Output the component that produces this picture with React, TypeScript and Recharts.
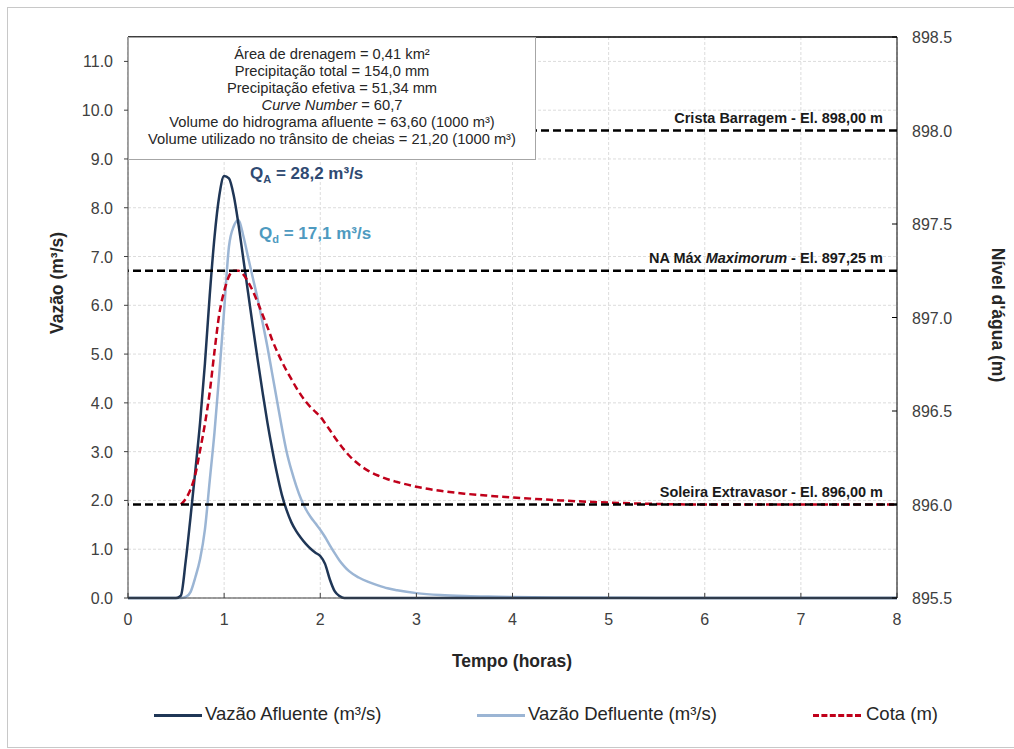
import React from 'react'
import { ComposedChart, Line, XAxis, YAxis, CartesianGrid, ReferenceLine } from 'recharts'

// tempo (horas) e séries
const tempo = [
  0, 0.5, 0.55, 0.6, 0.65, 0.7, 0.75, 0.8, 0.85, 0.9, 0.95, 1.0, 1.05, 1.1, 1.15, 1.2, 1.25, 1.3, 1.35,
  1.4, 1.45, 1.5, 1.55, 1.6, 1.65, 1.7, 1.75, 1.8, 1.85, 1.9, 1.95, 2.0, 2.05, 2.1, 2.15, 2.2, 2.25, 2.3,
  2.4, 2.5, 2.6, 2.7, 2.8, 3.0, 3.25, 3.5, 3.75, 4.0, 4.5, 5.0, 5.5, 6.0, 7.0, 8.0,
]

const vazaoAfluente = [
  0, 0, 0.05, 0.75, 1.65, 2.6, 3.6, 4.8, 6.2, 7.4, 8.25, 8.65, 8.6, 8.25, 7.65, 6.95, 6.25, 5.55, 4.87,
  4.22, 3.6, 3.05, 2.55, 2.12, 1.8, 1.55, 1.37, 1.23, 1.11, 1.01, 0.93, 0.86, 0.7, 0.38, 0.14, 0.04, 0, 0,
  0, 0, 0, 0, 0, 0, 0, 0, 0, 0, 0, 0, 0, 0, 0, 0,
]

const vazaoDefluente = [
  0, 0, 0, 0.02, 0.12, 0.42, 0.8, 1.4, 2.4, 3.4, 4.6, 5.9, 7.2, 7.62, 7.75, 7.42, 6.98, 6.55, 6.12,
  5.65, 5.15, 4.6, 4.05, 3.5, 3.0, 2.62, 2.3, 2.03, 1.82, 1.66, 1.53, 1.4, 1.25, 1.08, 0.92, 0.77, 0.65, 0.55,
  0.42, 0.33, 0.26, 0.2, 0.16, 0.1, 0.06, 0.04, 0.03, 0.02, 0.01, 0.005, 0, 0, 0, 0,
]

const cota = [
  null, null, 896.0, 896.03, 896.08, 896.16, 896.29, 896.43, 896.6, 896.82, 897.02, 897.14, 897.22, 897.25,
  897.25, 897.23, 897.19, 897.14, 897.08, 897.015, 896.95, 896.88, 896.82, 896.765, 896.715, 896.67, 896.625,
  896.585, 896.55, 896.52, 896.495, 896.47, 896.435, 896.398, 896.36, 896.325, 896.292, 896.262, 896.215,
  896.18, 896.155, 896.135, 896.12, 896.095, 896.073, 896.058, 896.047, 896.038, 896.022, 896.01, 896.003,
  896.0, 896.0, 896.0,
]

const tempoTicks = [0, 1, 2, 3, 4, 5, 6, 7, 8]
const vazaoTicks = [0, 1, 2, 3, 4, 5, 6, 7, 8, 9, 10, 11]
const cotaTicks = [895.5, 896.0, 896.5, 897.0, 897.5, 898.0, 898.5]

// [texto, itálico]
const niveis: { valor: number; partes: [string, boolean][] }[] = [
  { valor: 898.0, partes: [['Crista Barragem - El. 898,00 m', false]] },
  { valor: 897.25, partes: [['NA Máx ', false], ['Maximorum', true], [' - El. 897,25 m', false]] },
  { valor: 896.0, partes: [['Soleira Extravasor - El. 896,00 m', false]] },
]

const caixaTexto: [string, boolean][][] = [
  [['Área de drenagem = 0,41 km²', false]],
  [['Precipitação total = 154,0 mm', false]],
  [['Precipitação efetiva = 51,34 mm', false]],
  [['Curve Number', true], [' = 60,7', false]],
  [['Volume do hidrograma afluente = 63,60 (1000 m³)', false]],
  [['Volume utilizado no trânsito de cheias = 21,20 (1000 m³)', false]],
]

const data = tempo.map((t, i) => ({
  t,
  afluente: vazaoAfluente[i],
  defluente: vazaoDefluente[i],
  cota: cota[i],
}))

const FONT = '"Liberation Sans", Arial, sans-serif'
const COR_AFL = '#1f3656'
const COR_DEF = '#9bb5d4'
const COR_COTA = '#c0001a'
const COR_TICK = '#404040'

const XTick = ({ x, y, payload }: any) => (
  <g>
    <line x1={x} x2={x} y1={y} y2={y - 5} stroke={COR_TICK} />
    <text x={x} y={y + 27} textAnchor="middle" fontSize={16} fill={COR_TICK} fontFamily={FONT}>
      {payload.value}
    </text>
  </g>
)

const LeftTick = ({ x, y, payload }: any) => (
  <g>
    <line x1={x - 4} x2={x} y1={y} y2={y} stroke={COR_TICK} />
    <text x={x - 15} y={y + 6} textAnchor="end" fontSize={16} fill={COR_TICK} fontFamily={FONT}>
      {Number(payload.value).toFixed(1)}
    </text>
  </g>
)

const RightTick = ({ x, y, payload }: any) => (
  <g>
    <line x1={x - 5} x2={x} y1={y} y2={y} stroke="#000" />
    <text x={x + 15} y={y + 6} textAnchor="start" fontSize={16} fill={COR_TICK} fontFamily={FONT}>
      {Number(payload.value).toFixed(1)}
    </text>
  </g>
)

const NivelLabel = ({ viewBox, partes }: any) => {
  const x = (viewBox?.x ?? 128) + (viewBox?.width ?? 769) - 14
  const y = (viewBox?.y ?? 0) - 8
  return (
    <text x={x} y={y} textAnchor="end" fontSize={14.5} fontWeight="bold" fill="#1a1a1a" fontFamily={FONT} style={{ whiteSpace: 'pre' }}>
      {partes.map(([s, it]: [string, boolean], i: number) => (
        <tspan key={i} fontStyle={it ? 'italic' : 'normal'}>{s}</tspan>
      ))}
    </text>
  )
}

const tituloStyle = { fontSize: 17.5, fontWeight: 'bold' as const, fill: '#262626', fontFamily: FONT }

export default function App() {
  return (
    <div style={{ position: 'fixed', left: 0, top: 0, width: 1014, height: 749, background: '#fff', overflow: 'hidden', fontFamily: FONT }}>
      {/* moldura */}
      <div style={{ position: 'absolute', left: 7, top: 7, width: 1012, height: 739, border: '1px solid #c8c8c8' }} />

      <div style={{ position: 'absolute', left: 0, top: 0 }}>
        <ComposedChart width={1014} height={749} data={data} margin={{ top: 37, right: 57, bottom: 121, left: 68 }}>
          <CartesianGrid yAxisId="left" stroke="#dcdcdc" strokeDasharray="3 2" />
          <XAxis
            dataKey="t"
            type="number"
            domain={[0, 8]}
            ticks={tempoTicks}
            interval={0}
            height={30}
            tickSize={0}
            tickMargin={0}
            tick={<XTick />}
            tickLine={false}
            axisLine={{ stroke: COR_TICK }}
            label={() => (
              <text x={512} y={667} textAnchor="middle" {...tituloStyle}>Tempo (horas)</text>
            )}
          />
          <YAxis
            yAxisId="left"
            orientation="left"
            type="number"
            domain={[0, 11.5]}
            ticks={vazaoTicks}
            interval={0}
            width={60}
            tickSize={0}
            tickMargin={0}
            tick={<LeftTick />}
            tickLine={false}
            axisLine={{ stroke: COR_TICK }}
            label={() => (
              <text x={0} y={0} transform="translate(63,283) rotate(-90)" textAnchor="middle" {...tituloStyle}>Vazão (m³/s)</text>
            )}
          />
          <YAxis
            yAxisId="right"
            orientation="right"
            type="number"
            domain={[895.5, 898.5]}
            ticks={cotaTicks}
            interval={0}
            width={60}
            tickSize={0}
            tickMargin={0}
            tick={<RightTick />}
            tickLine={false}
            axisLine={{ stroke: '#000' }}
            label={() => (
              <text x={0} y={0} transform="translate(992,315) rotate(90)" textAnchor="middle" {...tituloStyle}>Nível d'água (m)</text>
            )}
          />
          <Line
            yAxisId="left"
            dataKey="defluente"
            type="monotone"
            stroke={COR_DEF}
            strokeWidth={2.5}
            dot={false}
            isAnimationActive={false}
          />
          <Line
            yAxisId="left"
            dataKey="afluente"
            type="monotone"
            stroke={COR_AFL}
            strokeWidth={2.5}
            dot={false}
            isAnimationActive={false}
          />
          <Line
            yAxisId="right"
            dataKey="cota"
            type="monotone"
            stroke={COR_COTA}
            strokeWidth={2.5}
            strokeDasharray="7 4"
            dot={false}
            connectNulls={false}
            isAnimationActive={false}
          />
          {niveis.map((n) => (
            <ReferenceLine
              key={n.valor}
              yAxisId="right"
              y={n.valor}
              stroke="#000"
              strokeWidth={2.5}
              strokeDasharray="8 4"
              label={<NivelLabel partes={n.partes} />}
            />
          ))}
          <ReferenceLine yAxisId="right" y={898.5} stroke="#000" strokeWidth={1.5} />
        </ComposedChart>
      </div>

      {/* caixa de informações */}
      <div
        style={{
          position: 'absolute',
          left: 128,
          top: 37,
          width: 408,
          height: 123,
          background: '#fff',
          border: '1px solid #a6a6a6',
          boxSizing: 'border-box',
          paddingTop: 8,
          textAlign: 'center',
          fontSize: 14.7,
          lineHeight: '17px',
          color: '#262626',
        }}
      >
        {caixaTexto.map((linha, i) => (
          <div key={i}>
            {linha.map(([s, it], j) => (
              <span key={j} style={{ fontStyle: it ? 'italic' : 'normal', whiteSpace: 'pre' }}>{s}</span>
            ))}
          </div>
        ))}
      </div>

      {/* picos */}
      <div style={{ position: 'absolute', left: 250, top: 164, fontSize: 17, fontWeight: 'bold', color: '#2f4a72', whiteSpace: 'nowrap' }}>
        Q<sub style={{ fontSize: 11 }}>A</sub> = 28,2 m³/s
      </div>
      <div style={{ position: 'absolute', left: 259, top: 224, fontSize: 17, fontWeight: 'bold', color: '#4e9ac0', whiteSpace: 'nowrap' }}>
        Q<sub style={{ fontSize: 11 }}>d</sub> = 17,1 m³/s
      </div>

      {/* legenda */}
      <div style={{ position: 'absolute', top: 703, left: 0, width: 1014, height: 24, fontSize: 18.5, color: '#262626' }}>
        <div style={{ position: 'absolute', left: 154, top: 11, width: 48, borderTop: `3px solid ${COR_AFL}` }} />
        <div style={{ position: 'absolute', left: 205, top: 0, whiteSpace: 'nowrap' }}>Vazão Afluente (m³/s)</div>
        <div style={{ position: 'absolute', left: 477, top: 11, width: 48, borderTop: `3px solid ${COR_DEF}` }} />
        <div style={{ position: 'absolute', left: 528, top: 0, whiteSpace: 'nowrap' }}>Vazão Defluente (m³/s)</div>
        <div style={{ position: 'absolute', left: 813, top: 11, width: 48, borderTop: `3px dashed ${COR_COTA}` }} />
        <div style={{ position: 'absolute', left: 866, top: 0, whiteSpace: 'nowrap' }}>Cota (m)</div>
      </div>
    </div>
  )
}
